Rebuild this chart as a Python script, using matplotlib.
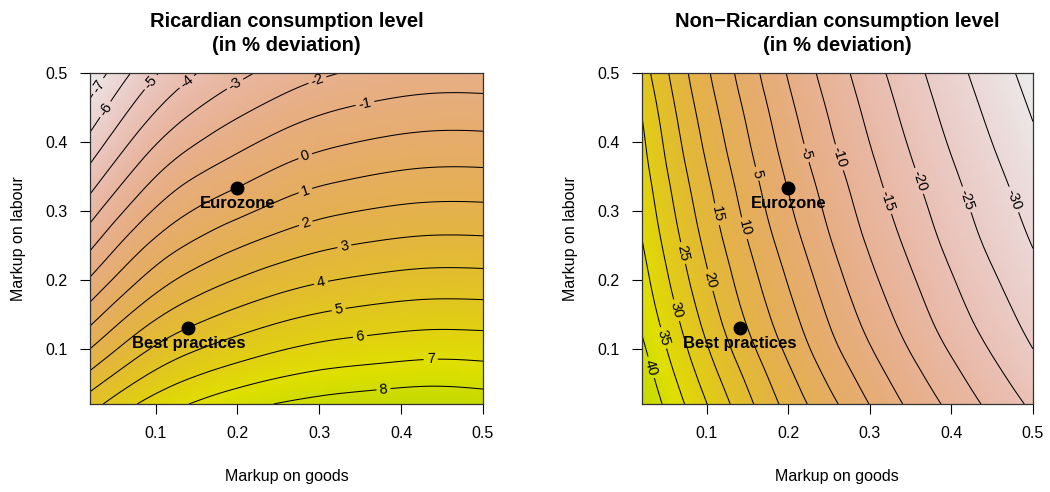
import colorsys

import numpy as np
import matplotlib
matplotlib.use("Agg")
import matplotlib.pyplot as plt
import matplotlib.tri as mtri
from matplotlib.colors import ListedColormap

plt.rcParams["font.family"] = ["Liberation Sans", "DejaVu Sans"]

# grid of markups (goods on x, labour on y)
markup_goods = [0.02, 0.08, 0.14, 0.20, 0.26, 0.32, 0.38, 0.44, 0.50]
markup_labour = [0.02, 0.08, 0.14, 0.20, 0.26, 0.32, 0.38, 0.44, 0.50]

# Ricardian consumption (% deviation), one row per labour markup
ricardian = [
    [4.57, 6.05, 6.99, 7.65, 8.10, 8.40, 8.60, 8.70, 8.55],
    [2.63, 4.27, 5.35, 6.00, 6.49, 6.81, 6.99, 7.12, 7.05],
    [0.80, 2.59, 3.76, 4.48, 5.02, 5.38, 5.60, 5.73, 5.70],
    [-0.89, 0.99, 2.27, 3.05, 3.62, 4.00, 4.24, 4.38, 4.36],
    [-2.45, -0.48, 0.83, 1.66, 2.28, 2.71, 2.96, 3.10, 3.08],
    [-3.90, -1.90, -0.50, 0.30, 0.99, 1.44, 1.71, 1.86, 1.85],
    [-5.26, -3.23, -1.80, -0.93, -0.22, 0.24, 0.52, 0.68, 0.67],
    [-6.54, -4.48, -3.04, -2.11, -1.39, -0.89, -0.60, -0.44, -0.45],
    [-7.76, -5.67, -4.20, -3.26, -2.54, -2.03, -1.72, -1.54, -1.55],
]

# Non-Ricardian consumption (% deviation)
non_ricardian = [
    [44.5, 33.65, 23.00, 13.24, 5.14, -2.67, -9.26, -15.38, -20.96],
    [41.93, 30.31, 19.43, 9.97, 1.49, -5.96, -12.49, -18.54, -24.08],
    [39.22, 27.27, 16.14, 7.01, -1.55, -8.80, -15.35, -21.29, -26.59],
    [37.10, 24.63, 13.73, 4.62, -3.88, -11.06, -17.53, -23.43, -28.54],
    [35.06, 22.33, 11.49, 2.26, -6.06, -13.16, -19.62, -25.42, -30.43],
    [33.33, 20.31, 9.53, 0.20, -7.88, -15.00, -21.33, -26.98, -32.02],
    [31.56, 18.26, 7.63, -1.73, -9.79, -16.75, -23.06, -28.64, -33.69],
    [29.94, 16.36, 5.86, -3.54, -11.47, -18.40, -24.68, -30.20, -35.27],
    [27.50, 14.42, 4.00, -5.41, -13.17, -20.06, -26.23, -31.74, -36.80],
]

ric_levels = list(range(-7, 9))
nonric_levels = list(range(-35, 45, 5))

point_names = ["Eurozone", "Best practices"]
point_goods = [0.20, 0.14]
point_labour = [0.333, 0.13]

# where R put the contour labels
ric_label_at = [(0.034, 0.478), (0.043, 0.444), (0.103, 0.478), (0.145, 0.478),
                (0.200, 0.478), (0.300, 0.482), (0.356, 0.455), (0.283, 0.379),
                (0.283, 0.330), (0.283, 0.284), (0.330, 0.253), (0.301, 0.2025),
                (0.323, 0.163), (0.349, 0.125), (0.436, 0.090), (0.378, 0.048)]
nonric_label_at = [(0.475, 0.316), (0.417, 0.316), (0.359, 0.343), (0.32, 0.314),
                   (0.2606, 0.377), (0.222, 0.384), (0.158, 0.353), (0.146, 0.275),
                   (0.111, 0.295), (0.105, 0.2), (0.0706, 0.239), (0.0645, 0.1565),
                   (0.044, 0.115), (0.034, 0.074)]


def terrain_part(n=256, t_hi=0.45):
    # reversed R terrain.colors, cut at yellow-green
    cols = []
    for t in np.linspace(1.0, t_hi, n):
        if t >= 0.5:
            u = (t - 0.5) / 0.5
            h, s, v = (2 / 12) * (1 - u), 1 - u, 0.9 + 0.05 * u
        else:
            u = t / 0.5
            h, s, v = 4 / 12 - (2 / 12) * u, 1.0, 0.65 + 0.25 * u
        cols.append(colorsys.hsv_to_rgb(h, s, v * 0.975))
    return ListedColormap(cols)


cmap = terrain_part()

fig = plt.figure(figsize=(10.5, 4.92), dpi=100)
ax1 = fig.add_axes([90 / 1050, 1 - 404 / 492, 393 / 1050, 331 / 492])
ax2 = fig.add_axes([641.7 / 1050, 1 - 404 / 492, 391.3 / 1050, 331 / 492])

panels = [
    (ax1, ricardian, ric_levels, ric_label_at, "Ricardian consumption level\n(in % deviation)"),
    (ax2, non_ricardian, nonric_levels, nonric_label_at, "Non\u2212Ricardian consumption level\n(in % deviation)"),
]

X, Y = np.meshgrid(markup_goods, markup_labour)
tri = mtri.Triangulation(X.ravel(), Y.ravel())
refiner = mtri.UniformTriRefiner(tri)

for ax, z, levels, label_at, title in panels:
    Z = np.array(z).ravel()
    interp = mtri.CubicTriInterpolator(tri, Z, kind="min_E")
    tri_f, z_f = refiner.refine_field(Z, triinterpolator=interp, subdiv=3)
    ax.tripcolor(tri_f, z_f, cmap=cmap, shading="gouraud")
    cs = ax.tricontour(tri_f, z_f, levels=levels, colors="black",
                       linewidths=0.75, linestyles="solid")
    ax.clabel(cs, fmt="%d", fontsize=10.5, inline=True, inline_spacing=3, manual=label_at)
    ax.plot(point_goods, point_labour, "o", color="black", markersize=9)
    for name, px, py in zip(point_names, point_goods, point_labour):
        ax.annotate(name, (px, py), xytext=(0, -11), textcoords="offset points",
                    ha="center", va="center", fontsize=12, fontweight="bold")
    ax.set_xlim(0.02, 0.5)
    ax.set_ylim(0.02, 0.5)
    ax.set_xticks([0.1, 0.2, 0.3, 0.4, 0.5])
    ax.set_yticks([0.1, 0.2, 0.3, 0.4, 0.5])
    ax.tick_params(direction="out", length=7, width=0.8, labelsize=11.5, pad=9)
    for sp in ax.spines.values():
        sp.set_linewidth(0.9)
        sp.set_color("#333333")
    ax.set_xlabel("Markup on goods", fontsize=11.5, labelpad=20)
    ax.set_ylabel("Markup on labour", fontsize=11.5, labelpad=14)
    ax.set_title(title, fontsize=14.5, fontweight="bold", linespacing=1.3, pad=16)

fig.savefig("out.png", dpi=100)
